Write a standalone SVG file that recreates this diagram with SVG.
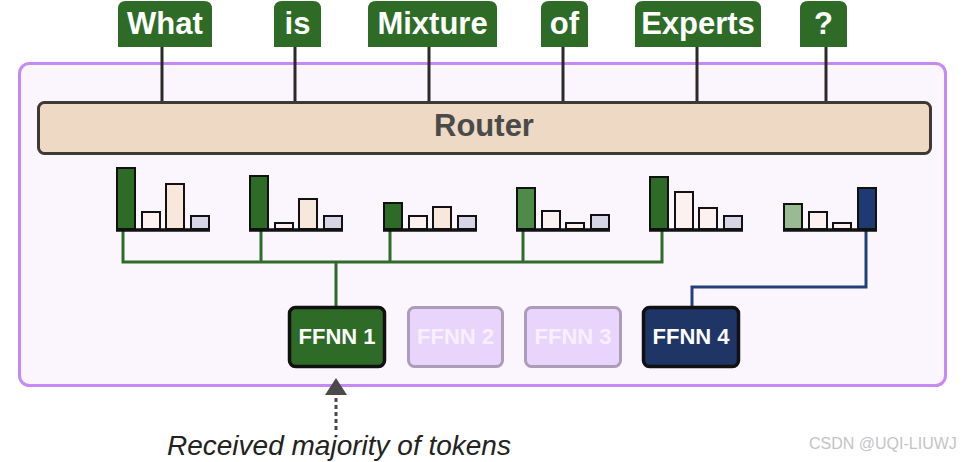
<svg xmlns="http://www.w3.org/2000/svg" width="969" height="462" viewBox="0 0 969 462">
<defs>
<style>
.tok{fill:#2e6b26}
.tokt{font-family:"Liberation Sans",Arial,sans-serif;font-weight:bold;font-size:31px;fill:#ffffff;text-anchor:middle}
.tline{stroke:#2a2a2a;stroke-width:3;fill:none}
.bar{stroke:#111;stroke-width:2}
.base{stroke:#111;stroke-width:3.5}
.g{fill:#2e6b26}
.w{fill:#fcf1ef}
.p{fill:#f8e8dc}
.l{fill:#d6d5e8}
.gc{stroke:#2f6b2a;stroke-width:3;fill:none}
.nc{stroke:#23407a;stroke-width:3;fill:none}
.ff{font-family:"Liberation Sans",Arial,sans-serif;font-weight:bold;font-size:22px;text-anchor:middle}
</style>
</defs>
<rect x="0" y="0" width="969" height="462" fill="#ffffff"/>
<g id="moe-layer">
<rect x="19.5" y="63.5" width="926" height="322" rx="10" fill="#fbf6fe" stroke="#c78af5" stroke-width="3"/>
</g>
<g id="connectors">
<line class="tline" x1="162" y1="47" x2="162" y2="102"/>
<line class="tline" x1="295" y1="47" x2="295" y2="102"/>
<line class="tline" x1="429" y1="47" x2="429" y2="102"/>
<line class="tline" x1="563" y1="47" x2="563" y2="102"/>
<line class="tline" x1="697" y1="47" x2="697" y2="102"/>
<line class="tline" x1="826" y1="47" x2="826" y2="102"/>
<path class="gc" d="M123,231 V262 M261,231 V262 M390,231 V262 M523,231 V262 M662,231 V262 M121.5,262 H663.5 M336,262 V306"/>
<path class="nc" d="M866,231 V287 H692 V306"/>
</g>
<g id="token-what"><path class="tok" d="M118,47 V9 Q118,1 126,1 H204 Q212,1 212,9 V47 Z"/><text class="tokt" x="165" y="34">What</text></g>
<g id="token-is"><path class="tok" d="M274,47 V9 Q274,1 282,1 H313 Q321,1 321,9 V47 Z"/><text class="tokt" x="297.5" y="34">is</text></g>
<g id="token-mixture"><path class="tok" d="M368,47 V9 Q368,1 376,1 H489 Q497,1 497,9 V47 Z"/><text class="tokt" x="432.5" y="34">Mixture</text></g>
<g id="token-of"><path class="tok" d="M541,47 V9 Q541,1 549,1 H580 Q588,1 588,9 V47 Z"/><text class="tokt" x="564.5" y="34">of</text></g>
<g id="token-experts"><path class="tok" d="M635,47 V9 Q635,1 643,1 H753 Q761,1 761,9 V47 Z"/><text class="tokt" x="698" y="34">Experts</text></g>
<g id="token-q"><path class="tok" d="M800,47 V9 Q800,1 808,1 H839 Q847,1 847,9 V47 Z"/><text class="tokt" x="823.5" y="34">?</text></g>
<g id="router">
<rect x="38.5" y="102.5" width="892" height="51" rx="6" fill="#eed9c4" stroke="#3d3935" stroke-width="3"/>
<text x="484" y="136" font-family="Liberation Sans, Arial, sans-serif" font-weight="bold" font-size="31" fill="#4a4a4a" text-anchor="middle">Router</text>
</g>
<g id="chart-1">
<rect class="bar g" x="117" y="168" width="18" height="61"/>
<rect class="bar w" x="142" y="212" width="18" height="17"/>
<rect class="bar p" x="166" y="184" width="18" height="45"/>
<rect class="bar l" x="191" y="216" width="18" height="13"/>
<line class="base" x1="116" y1="230" x2="210" y2="230"/>
</g>
<g id="chart-2">
<rect class="bar g" x="250" y="176" width="18" height="53"/>
<rect class="bar w" x="275" y="223" width="18" height="6"/>
<rect class="bar p" x="299" y="199" width="18" height="30"/>
<rect class="bar l" x="324" y="216" width="18" height="13"/>
<line class="base" x1="249" y1="230" x2="343" y2="230"/>
</g>
<g id="chart-3">
<rect class="bar g" x="384" y="203" width="18" height="26"/>
<rect class="bar w" x="409" y="216" width="18" height="13"/>
<rect class="bar p" x="433" y="207" width="18" height="22"/>
<rect class="bar l" x="458" y="216" width="18" height="13"/>
<line class="base" x1="383" y1="230" x2="477" y2="230"/>
</g>
<g id="chart-4">
<rect class="bar" fill="#4f8a48" x="517" y="188" width="18" height="41"/>
<rect class="bar w" x="542" y="211" width="18" height="18"/>
<rect class="bar w" x="566" y="223" width="18" height="6"/>
<rect class="bar l" x="591" y="215" width="18" height="14"/>
<line class="base" x1="516" y1="230" x2="610" y2="230"/>
</g>
<g id="chart-5">
<rect class="bar g" x="650" y="177" width="18" height="52"/>
<rect class="bar w" x="675" y="192" width="18" height="37"/>
<rect class="bar w" x="699" y="208" width="18" height="21"/>
<rect class="bar l" x="724" y="216" width="18" height="13"/>
<line class="base" x1="649" y1="230" x2="743" y2="230"/>
</g>
<g id="chart-6">
<rect class="bar" fill="#9aba94" x="784" y="204" width="18" height="25"/>
<rect class="bar w" x="809" y="212" width="18" height="17"/>
<rect class="bar w" x="833" y="223" width="18" height="6"/>
<rect class="bar" fill="#1f3a70" x="858" y="188" width="18" height="41"/>
<line class="base" x1="783" y1="230" x2="877" y2="230"/>
</g>
<g id="ffnn-1">
<rect x="289.5" y="307.5" width="95" height="59" rx="6" fill="#2e6b26" stroke="#111" stroke-width="3.5"/>
<text class="ff" x="337" y="344" fill="#ffffff">FFNN 1</text>
</g>
<g id="ffnn-2">
<rect x="408.5" y="307.5" width="94" height="59" rx="6" fill="#e9d5fb" stroke="#ab9cb8" stroke-width="3"/>
<text class="ff" x="455.5" y="344" fill="#f8effe">FFNN 2</text>
</g>
<g id="ffnn-3">
<rect x="525.5" y="307.5" width="95" height="59" rx="6" fill="#e9d5fb" stroke="#ab9cb8" stroke-width="3"/>
<text class="ff" x="573" y="344" fill="#f8effe">FFNN 3</text>
</g>
<g id="ffnn-4">
<rect x="643.5" y="307.5" width="95" height="59" rx="6" fill="#1f3566" stroke="#111" stroke-width="3.5"/>
<text class="ff" x="691" y="344" fill="#ffffff">FFNN 4</text>
</g>
<g id="annotation">
<polygon points="336,378 347,395 325,395" fill="#4a4a4a"/>
<line x1="336" y1="398" x2="336" y2="430" stroke="#4a4a4a" stroke-width="3" stroke-dasharray="4 3"/>
<text x="167" y="455" font-family="Liberation Sans, Arial, sans-serif" font-style="italic" font-size="28" fill="#222">Received majority of tokens</text>
</g>
<text x="809" y="449" font-family="Liberation Sans, Arial, sans-serif" font-size="16" fill="#c4c4c4">CSDN @UQI-LIUWJ</text>
</svg>
